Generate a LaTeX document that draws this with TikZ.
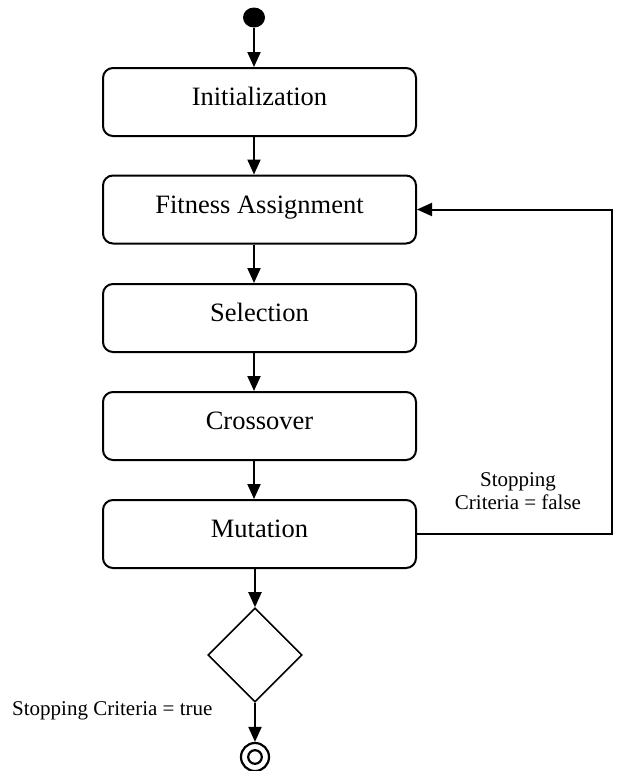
\documentclass[tikz,border=0pt]{standalone}
\usepackage{fontspec}
\setmainfont{Liberation Serif}
\usetikzlibrary{shapes.geometric,arrows.meta}
\begin{document}
\begin{tikzpicture}[x=1pt,y=-1pt,
  box/.style={draw,line width=2pt,rounded corners=10pt,minimum width=313pt,minimum height=68pt,
    inner sep=0pt,text height=18pt,text depth=11pt,font=\fontsize{26.5}{30}\selectfont},
  arr/.style={line width=2pt,-{Triangle[length=15pt,width=13pt]}},
  lbl/.style={font=\fontsize{21}{23}\selectfont,inner sep=0pt}]
\useasboundingbox (0,0) rectangle (617,771);
\node[ellipse,fill=black,minimum width=22pt,minimum height=20pt,inner sep=0pt] (start) at (254,17.5) {};
\node[box] (init) at (259.5,102) {Initialization};
\node[box] (fit) at (259.5,209.5) {Fitness Assignment};
\node[box] (sel) at (259.5,318) {Selection};
\node[box] (cro) at (259.5,426) {Crossover};
\node[box] (mut) at (259.5,534) {Mutation};
\node[diamond,draw,line width=1.6pt,minimum width=94pt,minimum height=94pt,inner sep=0pt] (dec) at (255,655) {};
\node[circle,draw,line width=2.2pt,minimum size=28pt,inner sep=0pt] (end) at (255,757) {};
\draw[line width=2.2pt] (end.center) circle[radius=6.8pt];
\coordinate (fbx) at (612,0);
\draw[arr] (start.south) -- (init.north -| start);
\draw[arr] (init.south -| start) -- (fit.north -| start);
\draw[arr] (fit.south -| start) -- (sel.north -| start);
\draw[arr] (sel.south -| start) -- (cro.north -| start);
\draw[arr] (cro.south -| start) -- (mut.north -| start);
\draw[arr] (mut.south -| dec) -- (dec.north);
\draw[arr] (dec.south) -- (end.north);
\draw[arr] (mut.east) -- (mut.east -| fbx) |- (fit.east);
\node[lbl,align=center] (lf) at (518,491) {Stopping\\Criteria = false};
\node[lbl,anchor=base west] (lt) at (12,715) {Stopping Criteria = true};
\end{tikzpicture}
\end{document}
